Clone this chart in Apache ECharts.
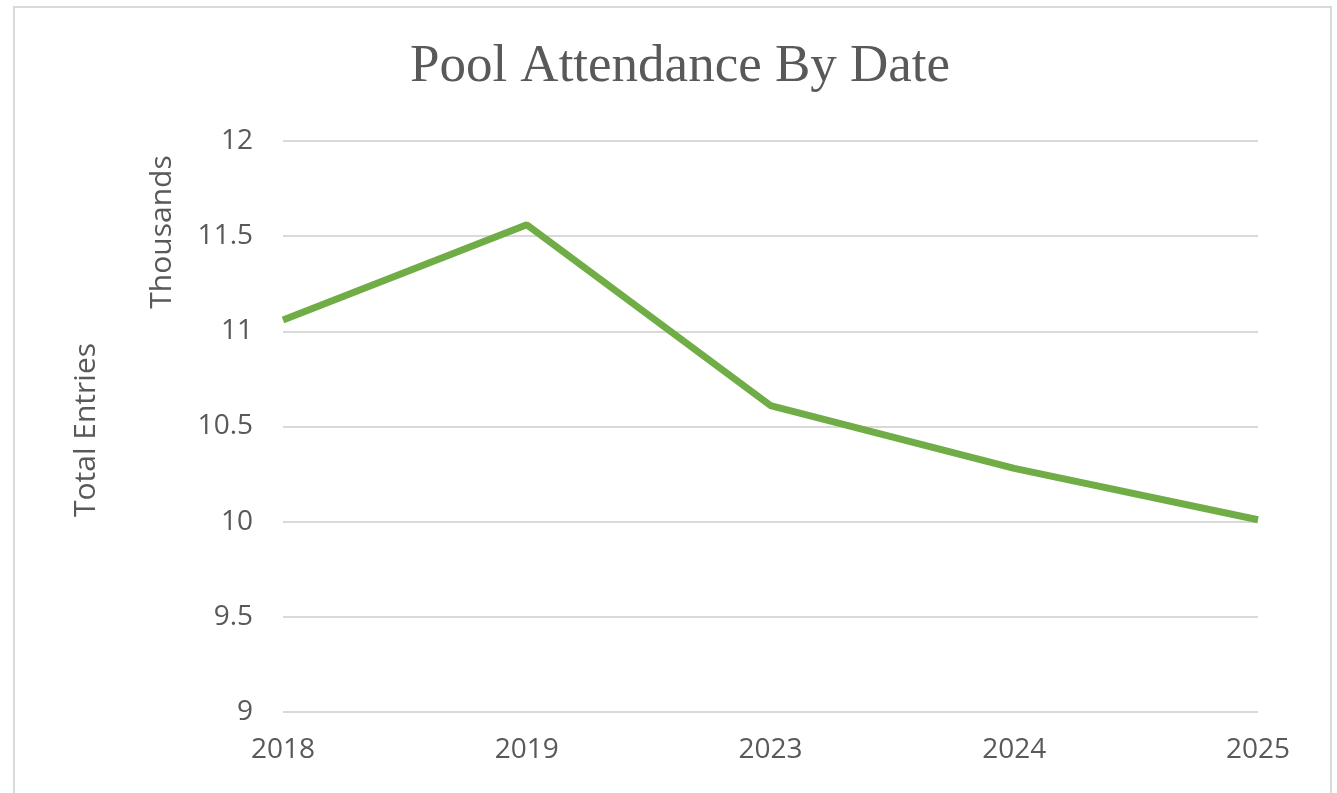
<!DOCTYPE html>
<html>
<head>
<meta charset="utf-8">
<script src="https://cdn.jsdelivr.net/npm/echarts@6/dist/echarts.min.js"></script>
<style>
  html, body { margin: 0; padding: 0; background: #fff; }
  #chart { width: 1337px; height: 793px; }
</style>
</head>
<body>
<div id="chart"></div>
<script>
// pool attendance, in thousands of entries
var years = ['2018', '2019', '2023', '2024', '2025']
var entries = [11.06, 11.56, 10.61, 10.28, 10.01]
var yTicks = [9, 9.5, 10, 10.5, 11, 11.5, 12]

var textColor = '#595959'
var myChart = echarts.init(document.getElementById('chart'))

myChart.setOption({
    animation: false,
    title: {
        text: 'Pool Attendance By Date',
        left: 675,
        top: 36,
        textAlign: 'center',
        textStyle: {
            fontFamily: 'Liberation Serif',
            fontSize: 53,
            fontWeight: 'normal',
            color: textColor
        }
    },
    grid: {
        left: 283,
        right: 79,
        top: 141,
        bottom: 81,
        containLabel: false
    },
    xAxis: {
        type: 'category',
        data: years,
        boundaryGap: false,
        axisLine: { show: false },
        axisTick: { show: false },
        axisLabel: {
            margin: 24,
            fontFamily: 'Open Sans',
            fontSize: 28,
            color: textColor
        }
    },
    yAxis: {
        type: 'value',
        min: yTicks[0],
        max: yTicks[yTicks.length - 1],
        interval: 0.5,
        axisLine: { show: false },
        axisTick: { show: false },
        axisLabel: {
            margin: 30,
            fontFamily: 'Open Sans',
            fontSize: 28,
            color: textColor
        },
        splitLine: { lineStyle: { color: '#d9d9d9', width: 2 } }
    },
    graphic: [
        {
            type: 'rect',
            shape: { x: 14, y: 7, width: 1317, height: 800 },
            style: { fill: 'none', stroke: '#d9d9d9', lineWidth: 2 },
            silent: true
        },
        {
            type: 'text',
            x: 162, y: 232,
            rotation: Math.PI / 2,
            style: {
                text: 'Thousands',
                fill: textColor,
                font: '30px "Open Sans"',
                align: 'center',
                verticalAlign: 'middle'
            }
        },
        {
            type: 'text',
            x: 86, y: 430,
            rotation: Math.PI / 2,
            style: {
                text: 'Total Entries',
                fill: textColor,
                font: '30px "Open Sans"',
                align: 'center',
                verticalAlign: 'middle'
            }
        }
    ],
    series: [{
        name: 'Total Entries',
        type: 'line',
        data: entries,
        showSymbol: false,
        symbol: 'none',
        lineStyle: { color: '#70ad47', width: 7 }
    }]
})
</script>
</body>
</html>
